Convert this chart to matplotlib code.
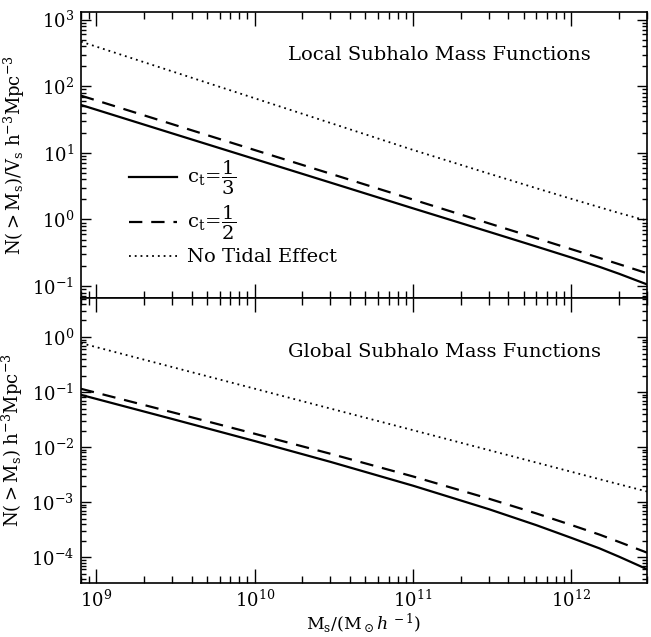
"""Local and global subhalo mass functions, two stacked log-log panels."""

import matplotlib

matplotlib.use("Agg")
import matplotlib.pyplot as plt
from matplotlib.ticker import LogLocator, NullFormatter

# halo mass grid (M_sun / h)
MASS = [8e8, 1e9, 3e9, 1e10, 3e10, 1e11, 3e11, 6e11, 1e12, 1.5e12, 2e12, 3e12]

# upper panel: N(>M_s)/V_s
LOCAL_THIRD = [52.5, 44.5, 19.7, 8.09, 3.59, 1.47, 0.656, 0.393, 0.268, 0.195, 0.153, 0.106]
LOCAL_HALF = [72.4, 61.4, 27.1, 11.04, 4.88, 1.99, 0.877, 0.524, 0.358, 0.265, 0.213, 0.156]
LOCAL_NOTIDE = [468, 394, 168, 66.1, 28.2, 11.07, 4.90, 2.95, 2.04, 1.53, 1.25, 0.96]

# lower panel: N(>M_s)
GLOBAL_THIRD = [0.0891, 0.0752, 0.0326, 0.0129, 0.00541, 0.00199, 7.48e-4, 3.82e-4,
                2.24e-4, 1.45e-4, 1.02e-4, 6.05e-5]
GLOBAL_HALF = [0.1148, 0.0973, 0.0432, 0.0175, 0.00759, 0.00293, 0.00116, 6.24e-4,
               3.84e-4, 2.58e-4, 1.89e-4, 1.21e-4]
GLOBAL_NOTIDE = [0.776, 0.656, 0.286, 0.1153, 0.0503, 0.0203, 0.00885, 0.00524,
                 0.00356, 0.00262, 0.00211, 0.00156]

LABELS = [r"$\mathrm{c_t}\!=\!\dfrac{1}{3}$", r"$\mathrm{c_t}\!=\!\dfrac{1}{2}$", "No Tidal Effect"]

plt.rcParams["font.family"] = "DejaVu Serif"
plt.rcParams["mathtext.fontset"] = "dejavuserif"
plt.rcParams["mathtext.default"] = "regular"


def style_axis(ax, ylim):
    ax.set_xscale("log")
    ax.set_yscale("log")
    ax.set_xlim(8e8, 3e12)
    ax.set_ylim(*ylim)
    ax.tick_params(which="both", direction="in", top=True, right=True, labelsize=13, width=1.0)
    ax.tick_params(axis="x", which="major", length=10, pad=5)
    ax.tick_params(axis="x", which="minor", length=5)
    ax.tick_params(axis="y", which="major", length=7.5, pad=5)
    ax.tick_params(axis="y", which="minor", length=3.6)
    ax.yaxis.set_minor_locator(LogLocator(base=10, subs=range(2, 10), numticks=20))
    ax.xaxis.set_minor_locator(LogLocator(base=10, subs=range(2, 10), numticks=20))
    ax.yaxis.set_minor_formatter(NullFormatter())
    for sp in ax.spines.values():
        sp.set_linewidth(1.2)


fig = plt.figure(figsize=(6.51, 6.37), dpi=100)
ax1 = fig.add_axes([0.1244, 0.532, 0.8695, 0.449])
ax2 = fig.add_axes([0.1244, 0.0848, 0.8695, 0.4472])

line_kw = dict(color="black", linewidth=1.6)
dash = (0, (6, 4))
dot = (0, (1, 2.2))

ax1.plot(MASS, LOCAL_THIRD, linestyle="-", label=LABELS[0], **line_kw)
ax1.plot(MASS, LOCAL_HALF, linestyle=dash, label=LABELS[1], **line_kw)
ax1.plot(MASS, LOCAL_NOTIDE, linestyle=dot, label=LABELS[2], color="black", linewidth=1.3)
style_axis(ax1, (0.066, 1.3e3))
ax1.tick_params(labelbottom=False)
ax1.set_ylabel(r"$\mathrm{N(>M_s)/V_s\ h^{-3}Mpc^{-3}}$", fontsize=13)
ax1.text(0.366, 0.85, "Local Subhalo Mass Functions", transform=ax1.transAxes,
         fontsize=14, va="center", ha="left")
ax1.legend(loc="upper left", bbox_to_anchor=(0.071, 0.515), frameon=False, fontsize=14,
           handlelength=2.45, handletextpad=0.55, labelspacing=0.35, borderaxespad=0)

ax2.plot(MASS, GLOBAL_THIRD, linestyle="-", **line_kw)
ax2.plot(MASS, GLOBAL_HALF, linestyle=dash, **line_kw)
ax2.plot(MASS, GLOBAL_NOTIDE, linestyle=dot, color="black", linewidth=1.3)
style_axis(ax2, (3.4e-5, 5.1))
ax2.set_ylabel(r"$\mathrm{N(>M_s)\ h^{-3}Mpc^{-3}}$", fontsize=13)
ax2.set_xlabel(r"$\mathrm{M_s/(M_\odot}\mathit{h}^{\,-1}\mathrm{)}$", fontsize=12.5, labelpad=0)
ax2.text(0.366, 0.81, "Global Subhalo Mass Functions", transform=ax2.transAxes,
         fontsize=14, va="center", ha="left")

fig.savefig("out.png", dpi=100)
